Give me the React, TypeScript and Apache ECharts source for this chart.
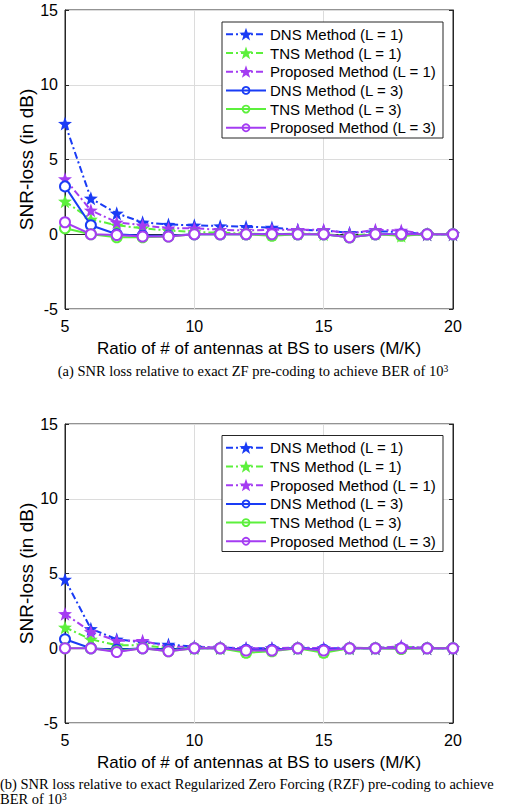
import React, { useEffect, useRef } from "react";
import * as echarts from "echarts";

const ratios = [5, 6, 7, 8, 9, 10, 11, 12, 13, 14, 15, 16, 17, 18, 19, 20];

const seriesNames = [
  "DNS Method (L = 1)",
  "TNS Method (L = 1)",
  "Proposed Method (L = 1)",
  "DNS Method (L = 3)",
  "TNS Method (L = 3)",
  "Proposed Method (L = 3)",
];

// (a) ZF
const zfDns1 = [7.4, 2.4, 1.4, 0.8, 0.65, 0.6, 0.55, 0.5, 0.45, 0.3, 0.25, 0.1, 0.2, 0.15, 0.0, 0.0];
const zfTns1 = [2.2, 1.0, 0.6, 0.4, 0.25, 0.15, 0.1, 0.05, 0.0, 0.05, 0.0, -0.1, 0.05, -0.1, 0.0, 0.0];
const zfProp1 = [3.7, 1.6, 0.8, 0.6, 0.4, 0.4, 0.3, 0.25, 0.3, 0.3, 0.3, 0.05, 0.3, 0.25, 0.0, 0.0];
const zfDns3 = [3.2, 0.6, 0.0, -0.1, -0.1, 0.0, 0.0, 0.0, 0.0, 0.0, 0.0, -0.2, 0.0, 0.0, 0.0, 0.0];
const zfTns3 = [0.4, 0.0, -0.2, -0.2, -0.15, 0.0, 0.0, 0.0, -0.1, 0.0, 0.0, -0.2, 0.0, -0.1, 0.0, 0.0];
const zfProp3 = [0.8, 0.0, -0.05, -0.15, -0.15, 0.0, 0.0, 0.0, 0.0, 0.0, 0.0, -0.2, 0.0, 0.0, 0.0, 0.0];

// (b) RZF
const rzfDns1 = [4.6, 1.3, 0.6, 0.4, 0.25, 0.1, 0.05, 0.0, 0.0, 0.0, 0.0, 0.0, 0.0, 0.1, 0.0, 0.0];
const rzfTns1 = [1.4, 0.6, 0.2, 0.2, 0.0, 0.0, 0.0, -0.2, -0.1, 0.0, -0.2, 0.0, 0.0, 0.1, 0.0, 0.0];
const rzfProp1 = [2.3, 1.1, 0.5, 0.5, 0.1, 0.1, 0.05, 0.0, 0.0, 0.05, 0.0, 0.05, 0.0, 0.15, 0.0, 0.0];
const rzfDns3 = [0.6, 0.0, -0.1, 0.0, -0.1, 0.0, 0.0, -0.1, -0.1, 0.0, -0.1, 0.0, 0.0, 0.0, 0.0, 0.0];
const rzfTns3 = [0.0, 0.0, -0.2, 0.0, -0.2, 0.0, 0.0, -0.3, -0.2, 0.0, -0.3, 0.0, 0.0, -0.05, 0.0, 0.0];
const rzfProp3 = [0.0, 0.0, -0.25, 0.0, -0.2, 0.0, 0.0, -0.15, -0.15, 0.0, -0.15, 0.0, 0.0, 0.0, 0.0, 0.0];

const xName = "Ratio of # of antennas at BS to users (M/K)";
const yName = "SNR-loss (in dB)";
const captionA = "(a) SNR loss relative to exact ZF pre-coding to achieve BER of 10{sup|3}";
const captionB =
  "(b) SNR loss relative to exact Regularized Zero Forcing (RZF) pre-coding to achieve\nBER of 10{sup|3}";

const BLUE = "#1a3cf5";
const GREEN = "#5cf03c";
const PURPLE = "#a43cf2";
const DARK = "#262626";
const STAR =
  "path://M0,-10L2.35,-3.24L9.51,-3.09L3.8,1.24L5.88,8.09L0,4L-5.88,8.09L-3.8,1.24L-9.51,-3.09L-2.35,-3.24Z";
const DASHDOT = [7, 3, 2, 3];

const styles = [
  { color: BLUE, star: true },
  { color: GREEN, star: true },
  { color: PURPLE, star: true },
  { color: BLUE, star: false },
  { color: GREEN, star: false },
  { color: PURPLE, star: false },
];

const FONT = "Liberation Sans, Arial, sans-serif";
const SERIF = "Liberation Serif, Times New Roman, serif";

function buildSeries(values: number[][], gi: number) {
  return values.map((vals, i) => {
    const st = styles[i];
    return {
      name: seriesNames[i],
      type: "line",
      xAxisIndex: gi * 2,
      yAxisIndex: gi * 2,
      data: ratios.map((x, k) => [x, vals[k]]),
      symbol: st.star ? STAR : "emptyCircle",
      symbolSize: st.star ? 14 : 10,
      showAllSymbol: true,
      lineStyle: {
        color: st.color,
        width: 2,
        type: st.star ? DASHDOT : "solid",
      },
      itemStyle: { color: st.color, borderWidth: 2 },
      emphasis: { disabled: true },
      z: 3 + i,
    };
  });
}

function starPoints(cx: number, cy: number, R: number) {
  const pts: number[][] = [];
  const r = R * 0.4;
  for (let k = 0; k < 10; k++) {
    const a = -Math.PI / 2 + (k * Math.PI) / 5;
    const rad = k % 2 === 0 ? R : r;
    pts.push([cx + rad * Math.cos(a), cy + rad * Math.sin(a)]);
  }
  return pts;
}

function legendGraphic(boxLeft: number, boxTop: number) {
  const Z = 100;
  const children: any[] = [
    {
      type: "rect",
      z: Z,
      shape: { x: boxLeft, y: boxTop, width: 221, height: 116 },
      style: { fill: "#fff", stroke: DARK, lineWidth: 1 },
    },
  ];
  seriesNames.forEach((name, i) => {
    const st = styles[i];
    const cy = boxTop + 12.3 + i * 18.7;
    const x0 = boxLeft + 4;
    const x1 = boxLeft + 44;
    const cx = (x0 + x1) / 2;
    children.push({
      type: "line",
      z: Z + 1,
      shape: { x1: x0, y1: cy, x2: x1, y2: cy },
      style: {
        stroke: st.color,
        lineWidth: 2,
        lineDash: st.star ? DASHDOT : null,
      },
    });
    if (st.star) {
      children.push({
        type: "polygon",
        z: Z + 2,
        shape: { points: starPoints(cx, cy + 0.5, 7) },
        style: { fill: st.color },
      });
    } else {
      children.push({
        type: "circle",
        z: Z + 2,
        shape: { cx, cy, r: 3.5 },
        style: { fill: "none", stroke: st.color, lineWidth: 1.8 },
      });
    }
    children.push({
      type: "text",
      z: Z + 2,
      x: boxLeft + 48,
      y: cy,
      style: {
        text: name,
        fontSize: 15,
        fontFamily: FONT,
        fill: "#000",
        align: "left",
        verticalAlign: "middle",
      },
    });
  });
  return { type: "group", children };
}

export default function App() {
  const ref = useRef<HTMLDivElement>(null);
  useEffect(() => {
    if (!ref.current) return;
    const chart = echarts.init(ref.current, null, { renderer: "svg" });
    const gridTops = [10, 424];
    const grids = gridTops.map((t) => ({
      left: 65,
      top: t,
      width: 388,
      height: 299,
      show: true,
      borderColor: DARK,
      borderWidth: 1,
      backgroundColor: "#fff",
    }));
    const xAxes: any[] = [];
    const yAxes: any[] = [];
    gridTops.forEach((_, gi) => {
      xAxes.push({
        type: "value",
        gridIndex: gi,
        min: 5,
        max: 20,
        interval: 5,
        name: xName,
        nameLocation: "middle",
        nameGap: 31,
        nameMoveOverlap: false,
        nameTextStyle: { fontSize: 17, color: "#000", fontFamily: FONT },
        axisLine: { show: true, lineStyle: { color: DARK, width: 1 } },
        axisTick: { show: true, inside: true, length: 4, lineStyle: { color: DARK } },
        axisLabel: { fontSize: 16, color: "#000", margin: 9, fontFamily: FONT },
        splitLine: { show: true, lineStyle: { color: "#dcdcdc", width: 1 } },
      });
      xAxes.push({
        type: "value",
        gridIndex: gi,
        position: "top",
        min: 5,
        max: 20,
        interval: 5,
        axisLine: { show: true, lineStyle: { color: DARK, width: 1 } },
        axisTick: { show: true, inside: true, length: 4, lineStyle: { color: DARK } },
        axisLabel: { show: false },
        splitLine: { show: false },
      });
      yAxes.push({
        type: "value",
        gridIndex: gi,
        min: -5,
        max: 15,
        interval: 5,
        name: yName,
        nameLocation: "middle",
        nameGap: 29,
        nameMoveOverlap: false,
        nameTextStyle: { fontSize: 19, color: "#000", fontFamily: FONT },
        axisLine: { show: true, lineStyle: { color: DARK, width: 1 } },
        axisTick: { show: true, inside: true, length: 4, lineStyle: { color: DARK } },
        axisLabel: { fontSize: 16, color: "#000", margin: 7, fontFamily: FONT },
        splitLine: { show: true, lineStyle: { color: "#dcdcdc", width: 1 } },
      });
      yAxes.push({
        type: "value",
        gridIndex: gi,
        position: "right",
        min: -5,
        max: 15,
        interval: 5,
        axisLine: { show: true, lineStyle: { color: DARK, width: 1 } },
        axisTick: { show: true, inside: true, length: 4, lineStyle: { color: DARK } },
        axisLabel: { show: false },
        splitLine: { show: false },
      });
    });

    const sup = { fontSize: 9.5, fontFamily: SERIF, verticalAlign: "top", lineHeight: 9 };
    const capStyle = (text: string, x: number, y: number, align: string) => ({
      type: "text",
      x,
      y,
      style: {
        text,
        fontSize: 14.5,
        lineHeight: 14.5,
        fontFamily: SERIF,
        fill: "#000",
        align,
        verticalAlign: "middle",
        rich: { sup },
      },
    });

    chart.setOption({
      animation: false,
      backgroundColor: "#fff",
      grid: grids,
      xAxis: xAxes,
      yAxis: yAxes,
      series: [
        ...buildSeries([zfDns1, zfTns1, zfProp1, zfDns3, zfTns3, zfProp3], 0),
        ...buildSeries([rzfDns1, rzfTns1, rzfProp1, rzfDns3, rzfTns3, rzfProp3], 1),
      ],
      graphic: [
        legendGraphic(222, 22),
        legendGraphic(222, 435.5),
        capStyle(captionA, 253, 371, "center"),
        capStyle(captionB, 0, 791.5, "left"),
      ],
    });
    return () => chart.dispose();
  }, []);
  return (
    <div
      ref={ref}
      style={{ position: "fixed", left: 0, top: 0, width: 506, height: 806 }}
    />
  );
}
